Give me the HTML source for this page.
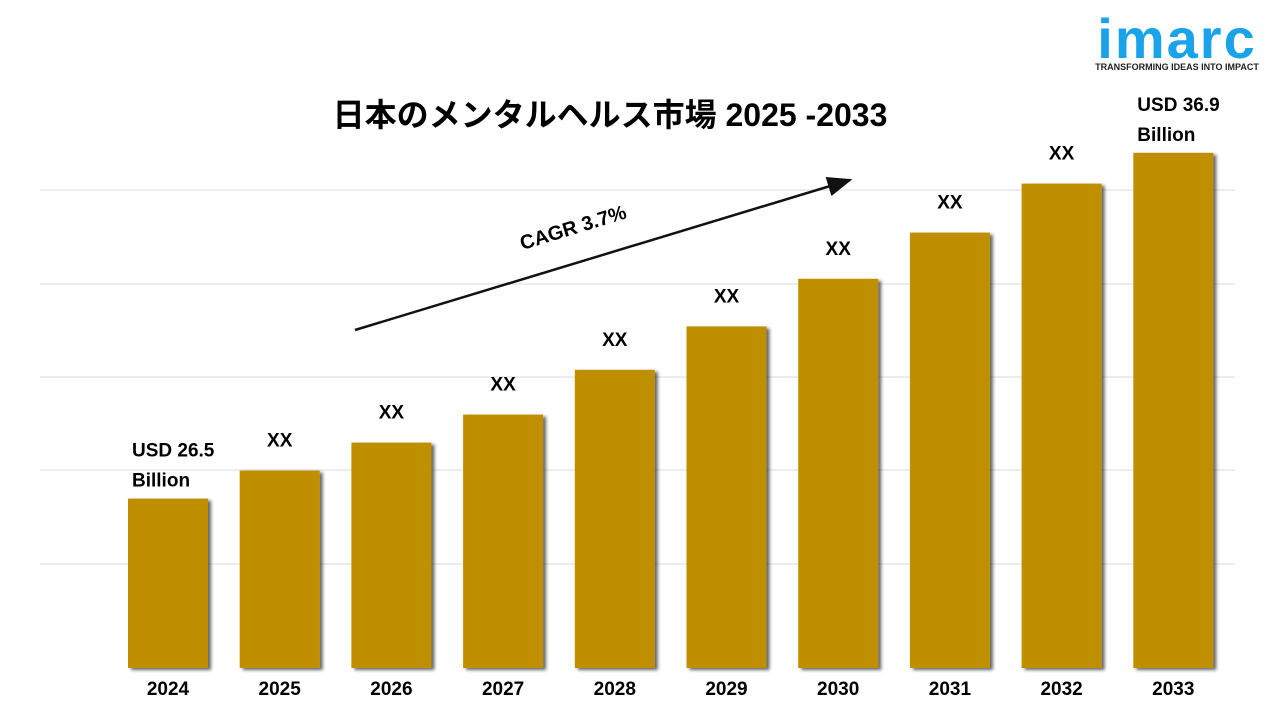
<!DOCTYPE html>
<html><head><meta charset="utf-8"><style>
body{margin:0;width:1280px;height:720px;background:#fff;overflow:hidden;font-family:"Liberation Sans","Noto Sans CJK JP",sans-serif}
</style></head><body>
<svg width="1280" height="720" font-family="Liberation Sans, Noto Sans CJK JP, sans-serif">
<defs>
<marker id="ah" markerWidth="10" markerHeight="8" refX="9" refY="4" orient="auto"><path d="M0,0 L10,4 L0,8z" fill="#111"/></marker>
<filter id="sh" x="-10%" y="-5%" width="130%" height="115%"><feDropShadow dx="3" dy="2" stdDeviation="1.5" flood-color="#000" flood-opacity="0.6"/></filter>
</defs>
<g>
<text x="1177" y="58" text-anchor="middle" font-size="56" font-weight="bold" fill="#1aa3e8" letter-spacing="2">imarc</text>
<text x="1177" y="70" text-anchor="middle" font-size="9" font-weight="bold" fill="#222">TRANSFORMING IDEAS INTO IMPACT</text>
</g>
<text x="610" y="126" text-anchor="middle" font-size="32" font-weight="bold" fill="#000">日本のメンタルヘルス市場 2025 -2033</text>
<g id="grid"></g>
<g id="bars"></g>
<line x1="355" y1="330" x2="850" y2="180" stroke="#111" stroke-width="2.5" marker-end="url(#ah)"/>
<text x="575" y="234" text-anchor="middle" font-size="20" font-weight="bold" transform="rotate(-17 575 234)">CAGR 3.7%</text>
</svg>
<script>
const years=["2024","2025","2026","2027","2028","2029","2030","2031","2032","2033"];
const values=[12.1,14.1,16.1,18.1,21.3,24.4,27.8,31.1,34.6,36.8];
const labels=["USD 26.5|Billion","XX","XX","XX","XX","XX","XX","XX","XX","USD 36.9|Billion"];
const gridVals=[7.43,14.14,20.79,27.43,34.14];
const NS="http://www.w3.org/2000/svg";
const base=668,k=14,x0=168,step=111.7,bw=80;
const y=v=>base-v*k, x=i=>x0+i*step;
function mk(t,a,p){const e=document.createElementNS(NS,t);for(const n in a)e.setAttribute(n,a[n]);p.appendChild(e);return e;}
const g=document.getElementById('grid'),b=document.getElementById('bars');
gridVals.forEach(v=>{const l=mk('line',{x1:40,x2:1235,y1:y(v),y2:y(v),stroke:'#d9d9d9','stroke-width':1},g);

});
values.forEach((v,i)=>{
const r=mk('rect',{x:x(i)-bw/2,y:y(v),width:bw,height:v*k,fill:'#bf8f00',filter:'url(#sh)'},b);


const t=mk('text',{x:x(i),y:base+27,'text-anchor':'middle','font-size':19,'font-weight':'bold'},b);t.textContent=years[i];


const parts=labels[i].split('|');
const lt=mk('text',{'font-size':19,'font-weight':'bold'},b);


if(parts.length>1){parts.forEach((p,j)=>{const s=mk('tspan',{x:x(i)-bw/2+4,y:y(v)-42+j*30},lt);s.textContent=p;});}
else{lt.setAttribute('x',x(i));lt.setAttribute('y',y(v)-24);lt.setAttribute('text-anchor','middle');lt.textContent=parts[0];}
});
</script>
</body></html>
